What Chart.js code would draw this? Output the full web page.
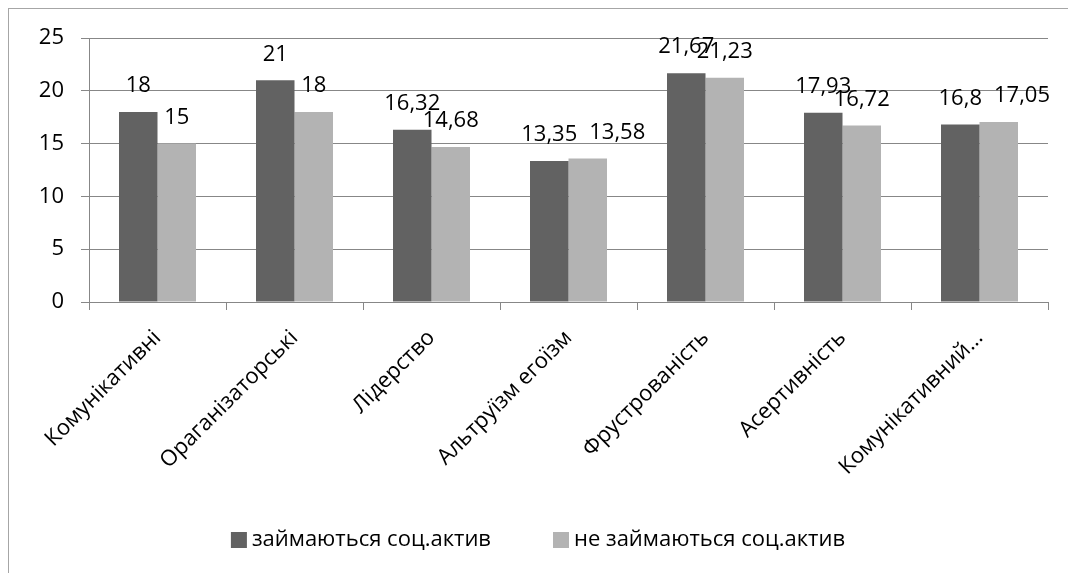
<!DOCTYPE html>
<html lang="uk">
<head>
<meta charset="utf-8">
<title>Соціальна активність</title>
<script src="https://cdn.jsdelivr.net/npm/chart.js@4.4.0/dist/chart.umd.min.js"></script>
<style>
    html, body { margin: 0; padding: 0; background: #fff; overflow: hidden; }
    #wrap { position: relative; width: 1068px; height: 573px; }
    #frame {
        position: absolute; left: 8px; top: 8px;
        width: 1100px; height: 600px;
        border: 1px solid #a6a6a6;
        pointer-events: none;
    }
</style>
</head>
<body>
<div id="wrap">
    <canvas id="socChart" width="1068" height="573"></canvas>
    <div id="frame"></div>
</div>
<script>
// Chart data
const categories = ['Комунікативні', 'Ораганізаторські', 'Лідерство', 'Альтруїзм егоїзм',
    'Фрустрованість', 'Асертивність', 'Комунікативний...'];
const activeValues = [18, 21, 16.32, 13.35, 21.67, 17.93, 16.8];
const inactiveValues = [15, 18, 14.68, 13.58, 21.23, 16.72, 17.05];
const seriesNames = ['займаються соц.актив', 'не займаються соц.актив'];
const yMin = 0, yMax = 25, yStep = 5;

const FONT = '"Open Sans", sans-serif';
const FONT_SIZE = 22;
const DARK = '#626262';
const LIGHT = '#b3b3b3';
const GRID = '#878787';

// decimal comma like the source
const fmt = v => String(v).replace('.', ',');

/**
 * Value labels above each bar, pushing the second one right when they collide
 */
const valueLabels = {
    id: 'valueLabels',
    afterDatasetsDraw(chart) {
        const ctx = chart.ctx;
        const m0 = chart.getDatasetMeta(0);
        const m1 = chart.getDatasetMeta(1);
        ctx.save();
        ctx.font = `${FONT_SIZE}px ${FONT}`;
        ctx.fillStyle = '#000';
        ctx.textAlign = 'center';
        ctx.textBaseline = 'middle';
        m0.data.forEach((bar, i) => {
            const other = m1.data[i];
            const a = { text: fmt(activeValues[i]), x: bar.x, y: bar.y - 26 };
            const b = { text: fmt(inactiveValues[i]), x: other.x, y: other.y - 26 };
            const wa = ctx.measureText(a.text).width;
            const wb = ctx.measureText(b.text).width;
            const overlap = (a.x + wa / 2) - (b.x - wb / 2) + 12;
            if (Math.abs(a.y - b.y) < 4 && overlap > 0) b.x += overlap;
            ctx.fillText(a.text, a.x, a.y);
            ctx.fillText(b.text, b.x, b.y);
        });
        ctx.restore();
    }
};

/**
 * Bottom legend with wide spacing between the two entries
 */
const bottomLegend = {
    id: 'bottomLegend',
    afterDraw(chart) {
        const ctx = chart.ctx;
        const box = 16, textGap = 5, itemGap = 62;
        const y = 540;
        ctx.save();
        ctx.font = `${FONT_SIZE}px ${FONT}`;
        ctx.textBaseline = 'middle';
        ctx.textAlign = 'left';
        const items = chart.data.datasets.map(ds => ({
            text: ds.label, color: ds.backgroundColor,
            w: box + textGap + ctx.measureText(ds.label).width
        }));
        const total = items.reduce((s, it) => s + it.w, 0) + itemGap * (items.length - 1);
        let x = chart.width / 2 + 4 - total / 2;
        items.forEach(it => {
            ctx.fillStyle = it.color;
            ctx.fillRect(x, y - box / 2, box, box);
            ctx.fillStyle = '#000';
            ctx.fillText(it.text, x + box + textGap, y);
            x += it.w + itemGap;
        });
        ctx.restore();
    }
};

new Chart(document.getElementById('socChart'), {
    type: 'bar',
    data: {
        labels: categories,
        datasets: [
            { label: seriesNames[0], data: activeValues, backgroundColor: DARK },
            { label: seriesNames[1], data: inactiveValues, backgroundColor: LIGHT }
        ]
    },
    options: {
        responsive: false,
        animation: false,
        categoryPercentage: 0.562,
        barPercentage: 1,
        layout: { padding: { top: 38, right: 20, bottom: 0, left: 0 } },
        plugins: {
            legend: { display: false },
            tooltip: { enabled: false }
        },
        scales: {
            x: {
                offset: true,
                grid: {
                    offset: true,
                    drawOnChartArea: false,
                    drawTicks: true,
                    tickLength: 8,
                    color: GRID
                },
                border: { color: GRID },
                ticks: {
                    color: '#000',
                    font: { family: FONT, size: FONT_SIZE },
                    minRotation: 45,
                    maxRotation: 45,
                    autoSkip: false,
                    padding: 15
                },
                afterFit: scale => { scale.height = 271; }
            },
            y: {
                min: yMin,
                max: yMax,
                grid: { color: GRID, tickLength: 8 },
                border: { color: GRID },
                ticks: {
                    stepSize: yStep,
                    color: '#000',
                    padding: 17,
                    font: { family: FONT, size: FONT_SIZE }
                },
                afterFit: scale => { scale.width = 89; }
            }
        }
    },
    plugins: [valueLabels, bottomLegend]
});
</script>
</body>
</html>
